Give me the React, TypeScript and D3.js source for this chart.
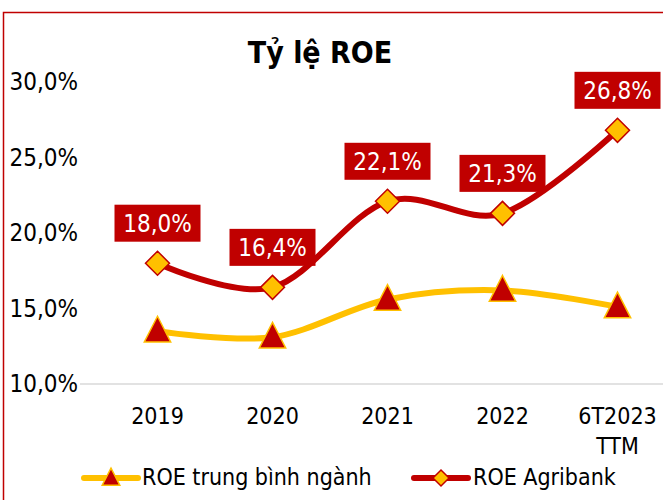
import React from "react";
import * as d3 from "d3";

const categories: string[][] = [["2019"], ["2020"], ["2021"], ["2022"], ["6T2023", "TTM"]];
const industryROE = [13.5, 13.1, 15.6, 16.2, 15.1];
const agribankROE = [18.0, 16.4, 22.1, 21.3, 26.8];
const yTicks = [10, 15, 20, 25, 30];
const seriesNames = ["ROE trung bình ngành", "ROE Agribank"];

const RED = "#C00000";
const YEL = "#FFC000";
const FONT = "'DejaVu Sans Condensed', 'DejaVu Sans', sans-serif";

const fmt = (v: number) => v.toFixed(1).replace(".", ",") + "%";

export default function App() {
  const W = 663, H = 500;
  const x = d3.scaleBand<number>().domain(d3.range(categories.length)).range([100, 675]);
  const cx = (i: number) => (x(i) as number) + x.bandwidth() / 2;
  const y = d3.scaleLinear().domain([10, 30]).range([384, 82]);
  const line = d3.line<number>().x((_, i) => cx(i)).y((d) => y(d)).curve(d3.curveCardinal.tension(0));

  const tri = (px: number, py: number, s: number) =>
    `M${px},${py - s * 0.62} L${px + s * 0.55},${py + s * 0.45} L${px - s * 0.55},${py + s * 0.45} Z`;
  const dia = (px: number, py: number, r: number) =>
    `M${px},${py - r} L${px + r},${py} L${px},${py + r} L${px - r},${py} Z`;

  return (
    <svg width={W} height={H} style={{ position: "absolute", left: 0, top: 0, background: "#fff" }} fontFamily={FONT}>
      <rect x={3.5} y={12.5} width={W + 10} height={H + 10} fill="#fff" stroke={RED} strokeWidth={1.5} />
      <text x={320} y={63} textAnchor="middle" fontSize={30} fontWeight="bold" fill="#000">Tỷ lệ ROE</text>
      {yTicks.map((t) => (
        <text key={t} x={78} y={y(t) + 8} textAnchor="end" fontSize={24} fill="#000">{fmt(t)}</text>
      ))}
      <line x1={80} x2={W} y1={y(10)} y2={y(10)} stroke="#D9D9D9" strokeWidth={1.5} />
      {categories.map((c, i) => (
        <text key={i} x={cx(i)} y={424} textAnchor="middle" fontSize={23} fill="#000">
          {c.map((s, j) => (
            <tspan key={j} x={cx(i)} dy={j === 0 ? 0 : 30}>{s}</tspan>
          ))}
        </text>
      ))}
      <path d={line(industryROE) || ""} fill="none" stroke={YEL} strokeWidth={6} strokeLinecap="round" />
      <path d={line(agribankROE) || ""} fill="none" stroke={RED} strokeWidth={6} strokeLinecap="round" />
      {industryROE.map((v, i) => (
        <path key={i} d={tri(cx(i), y(v), 24)} fill={RED} stroke={YEL} strokeWidth={1.5} />
      ))}
      {agribankROE.map((v, i) => (
        <path key={i} d={dia(cx(i), y(v), 12)} fill={YEL} stroke={RED} strokeWidth={1.5} />
      ))}
      {agribankROE.map((v, i) => (
        <g key={i}>
          <rect x={cx(i) - 43} y={y(v) - 58.5} width={86} height={37} fill={RED} />
          <text x={cx(i)} y={y(v) - 31.5} textAnchor="middle" fontSize={24} fill="#fff">{fmt(v)}</text>
        </g>
      ))}
      <g>
        <line x1={84} x2={138} y1={478} y2={478} stroke={YEL} strokeWidth={6} strokeLinecap="round" />
        <path d={tri(111, 478, 16)} fill={RED} stroke={YEL} strokeWidth={1.5} />
        <text x={142} y={485} fontSize={23} fill="#000">{seriesNames[0]}</text>
        <line x1={414} x2={468} y1={478} y2={478} stroke={RED} strokeWidth={6} strokeLinecap="round" />
        <path d={dia(441, 478, 8)} fill={YEL} stroke={RED} strokeWidth={1.5} />
        <text x={473} y={485} fontSize={23} fill="#000">{seriesNames[1]}</text>
      </g>
    </svg>
  );
}
